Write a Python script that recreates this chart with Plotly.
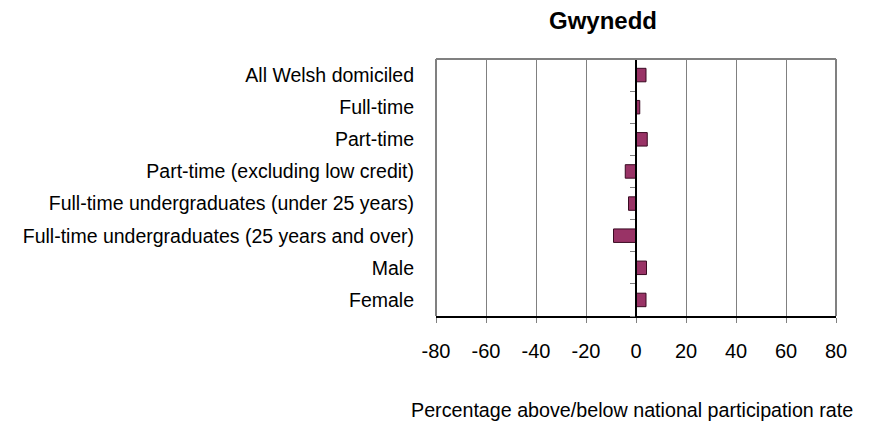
import plotly.graph_objects as go

categories = [
    "All Welsh domiciled",
    "Full-time",
    "Part-time",
    "Part-time (excluding low credit)",
    "Full-time undergraduates (under 25 years)",
    "Full-time undergraduates (25 years and over)",
    "Male",
    "Female",
]
values = [4.0, 1.5, 4.5, -4.3, -3.0, -9.0, 4.2, 4.0]
x_ticks = [-80, -60, -40, -20, 0, 20, 40, 60, 80]
title_text = "Gwynedd"
x_title = "Percentage above/below national participation rate"

font = "Liberation Sans, Arial, sans-serif"
fs = 20

fig = go.Figure()
fig.add_trace(go.Bar(
    y=categories, x=values, orientation="h",
    marker=dict(color="#993366", line=dict(color="#3a0a22", width=1)),
    width=0.42, hoverinfo="x+y",
))
# helper trace so the zero-line category axis is drawn
fig.add_trace(go.Scatter(x=[None], y=[None], yaxis="y2", showlegend=False, hoverinfo="skip"))

boundaries = [i - 0.5 for i in range(len(categories) + 1)]

fig.update_layout(
    width=864, height=417,
    margin=dict(l=428, r=36, t=51, b=109),
    plot_bgcolor="white", paper_bgcolor="white",
    font=dict(family=font, size=fs, color="black"),
    showlegend=False,
    xaxis=dict(
        range=[-80, 80], tickvals=x_ticks, ticktext=[str(v) for v in x_ticks],
        showgrid=True, gridcolor="#808080", gridwidth=1,
        zeroline=False, automargin=False,
        showline=True, linecolor="black", linewidth=1.5,
        ticks="outside", ticklen=5, tickcolor="#808080", tickwidth=1,
        ticklabelstandoff=11,
        tickfont=dict(size=fs), fixedrange=True,
    ),
    yaxis=dict(
        autorange="reversed", showgrid=False, zeroline=False,
        showline=False, ticks="", ticklabelstandoff=21, automargin=False,
        tickfont=dict(size=19.5), fixedrange=True,
    ),
    yaxis2=dict(
        overlaying="y", anchor="free", position=0.5, side="left",
        range=[len(categories) - 0.5, -0.5], automargin=False,
        tickvals=boundaries, showticklabels=False,
        ticks="outside", ticklen=5, tickcolor="#808080", tickwidth=1,
        showline=True, linecolor="black", linewidth=1.5,
        showgrid=False, zeroline=False, fixedrange=True,
    ),
    shapes=[
        dict(type="line", xref="paper", yref="paper", x0=0, x1=1, y0=1, y1=1,
             line=dict(color="#808080", width=2), layer="above"),
        dict(type="line", xref="paper", yref="paper", x0=0, x1=0, y0=0, y1=1,
             line=dict(color="#808080", width=2), layer="above"),
        dict(type="line", xref="paper", yref="paper", x0=1, x1=1, y0=0, y1=1,
             line=dict(color="#808080", width=2), layer="above"),
    ],
    annotations=[
        dict(text="<b>" + title_text + "</b>", xref="paper", yref="paper",
             x=0.418, y=1, yshift=39, xanchor="center", yanchor="middle",
             showarrow=False, font=dict(size=24)),
        dict(text=x_title, xref="paper", yref="paper",
             x=0.49, y=0, yshift=-94, xanchor="center", yanchor="middle",
             showarrow=False, font=dict(size=19.7)),
    ],
)

fig.write_html("out.html")
